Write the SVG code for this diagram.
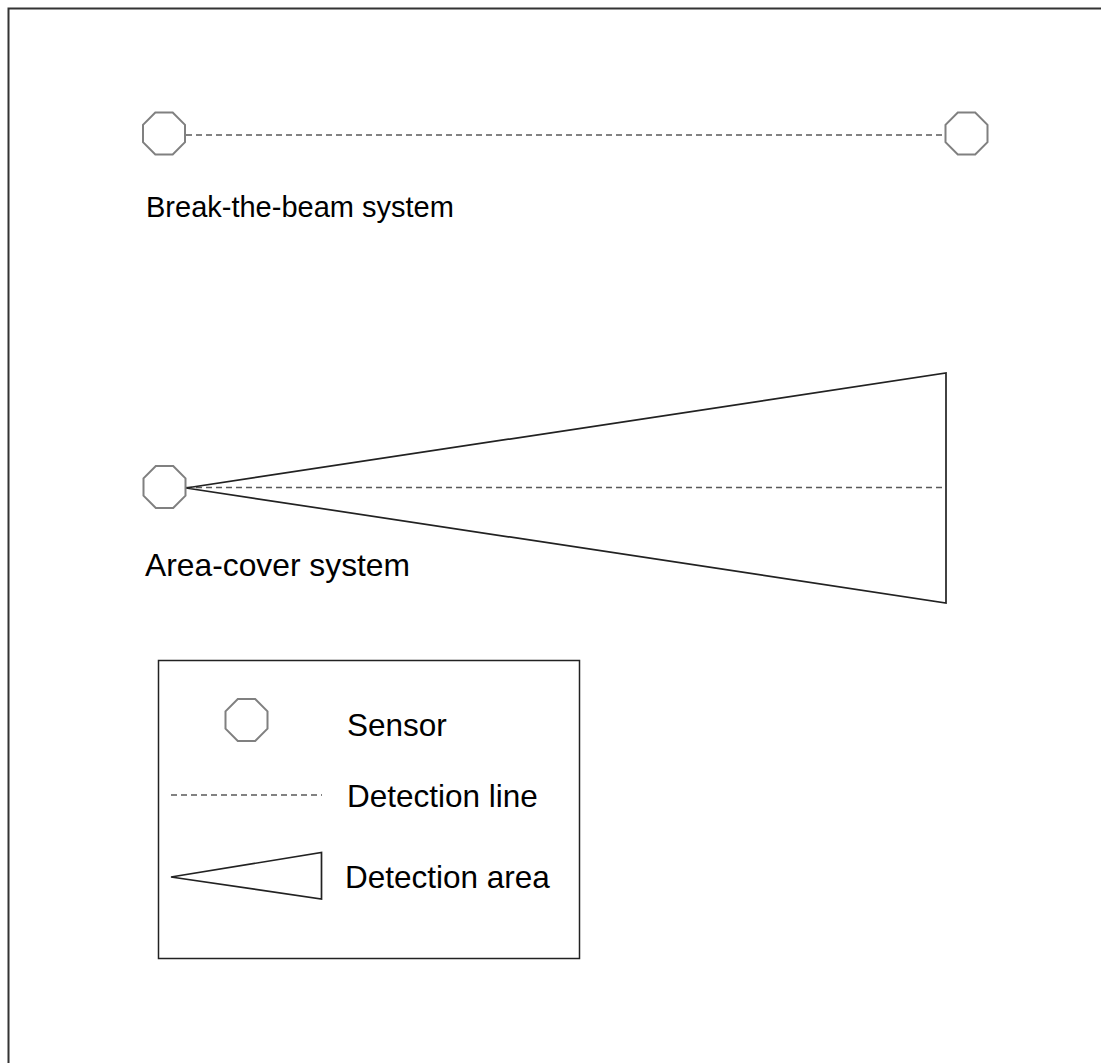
<svg xmlns="http://www.w3.org/2000/svg" width="1101" height="1063" viewBox="0 0 1101 1063">
<style>
.sensor{fill:#fff;stroke:#808080;stroke-width:2}
.dline{fill:none;stroke:#5a5a5a;stroke-width:1.5;stroke-dasharray:6 4}
.area{fill:none;stroke:#222;stroke-width:1.7}
.lbl{font-family:"Liberation Sans",Arial,sans-serif;font-size:30px;fill:#000}
.leg{font-size:31.5px}
</style>
<defs>
<polygon id="oct" points="-8.7,-21 8.7,-21 21,-8.7 21,8.7 8.7,21 -8.7,21 -21,8.7 -21,-8.7"/>
</defs>
<rect x="0" y="0" width="1101" height="1063" fill="#fff"/>
<rect x="8.5" y="8.5" width="1200" height="1200" fill="none" stroke="#333" stroke-width="2"/>
<g id="connectors">
<line class="dline" x1="186" y1="135" x2="945" y2="135"/>
<line class="dline" x1="186" y1="487.5" x2="942" y2="487.5"/>
</g>
<g id="area-cover-zone">
<polygon class="area" points="186,488 946,373 946,603"/>
</g>
<g id="sensor-beam-left"><use href="#oct" class="sensor" transform="translate(164,133.5)"/></g>
<g id="sensor-beam-right"><use href="#oct" class="sensor" transform="translate(966.5,133.5)"/></g>
<g id="sensor-area"><use href="#oct" class="sensor" transform="translate(164.5,487)"/></g>
<text class="lbl" x="146" y="217" style="font-size:29px">Break-the-beam system</text>
<text class="lbl" x="145" y="576" style="font-size:31.8px">Area-cover system</text>
<g id="legend">
<rect x="158.5" y="660.5" width="421" height="298" fill="#fff" stroke="#222" stroke-width="1.5"/>
<use href="#oct" class="sensor" transform="translate(246.5,720)"/>
<text class="lbl leg" x="347" y="736">Sensor</text>
<line class="dline" x1="171" y1="795" x2="322" y2="795"/>
<text class="lbl leg" x="347" y="807">Detection line</text>
<polygon class="area" points="171,877 321.5,852.5 321.5,899"/>
<text class="lbl leg" x="345" y="888">Detection area</text>
</g>
</svg>
